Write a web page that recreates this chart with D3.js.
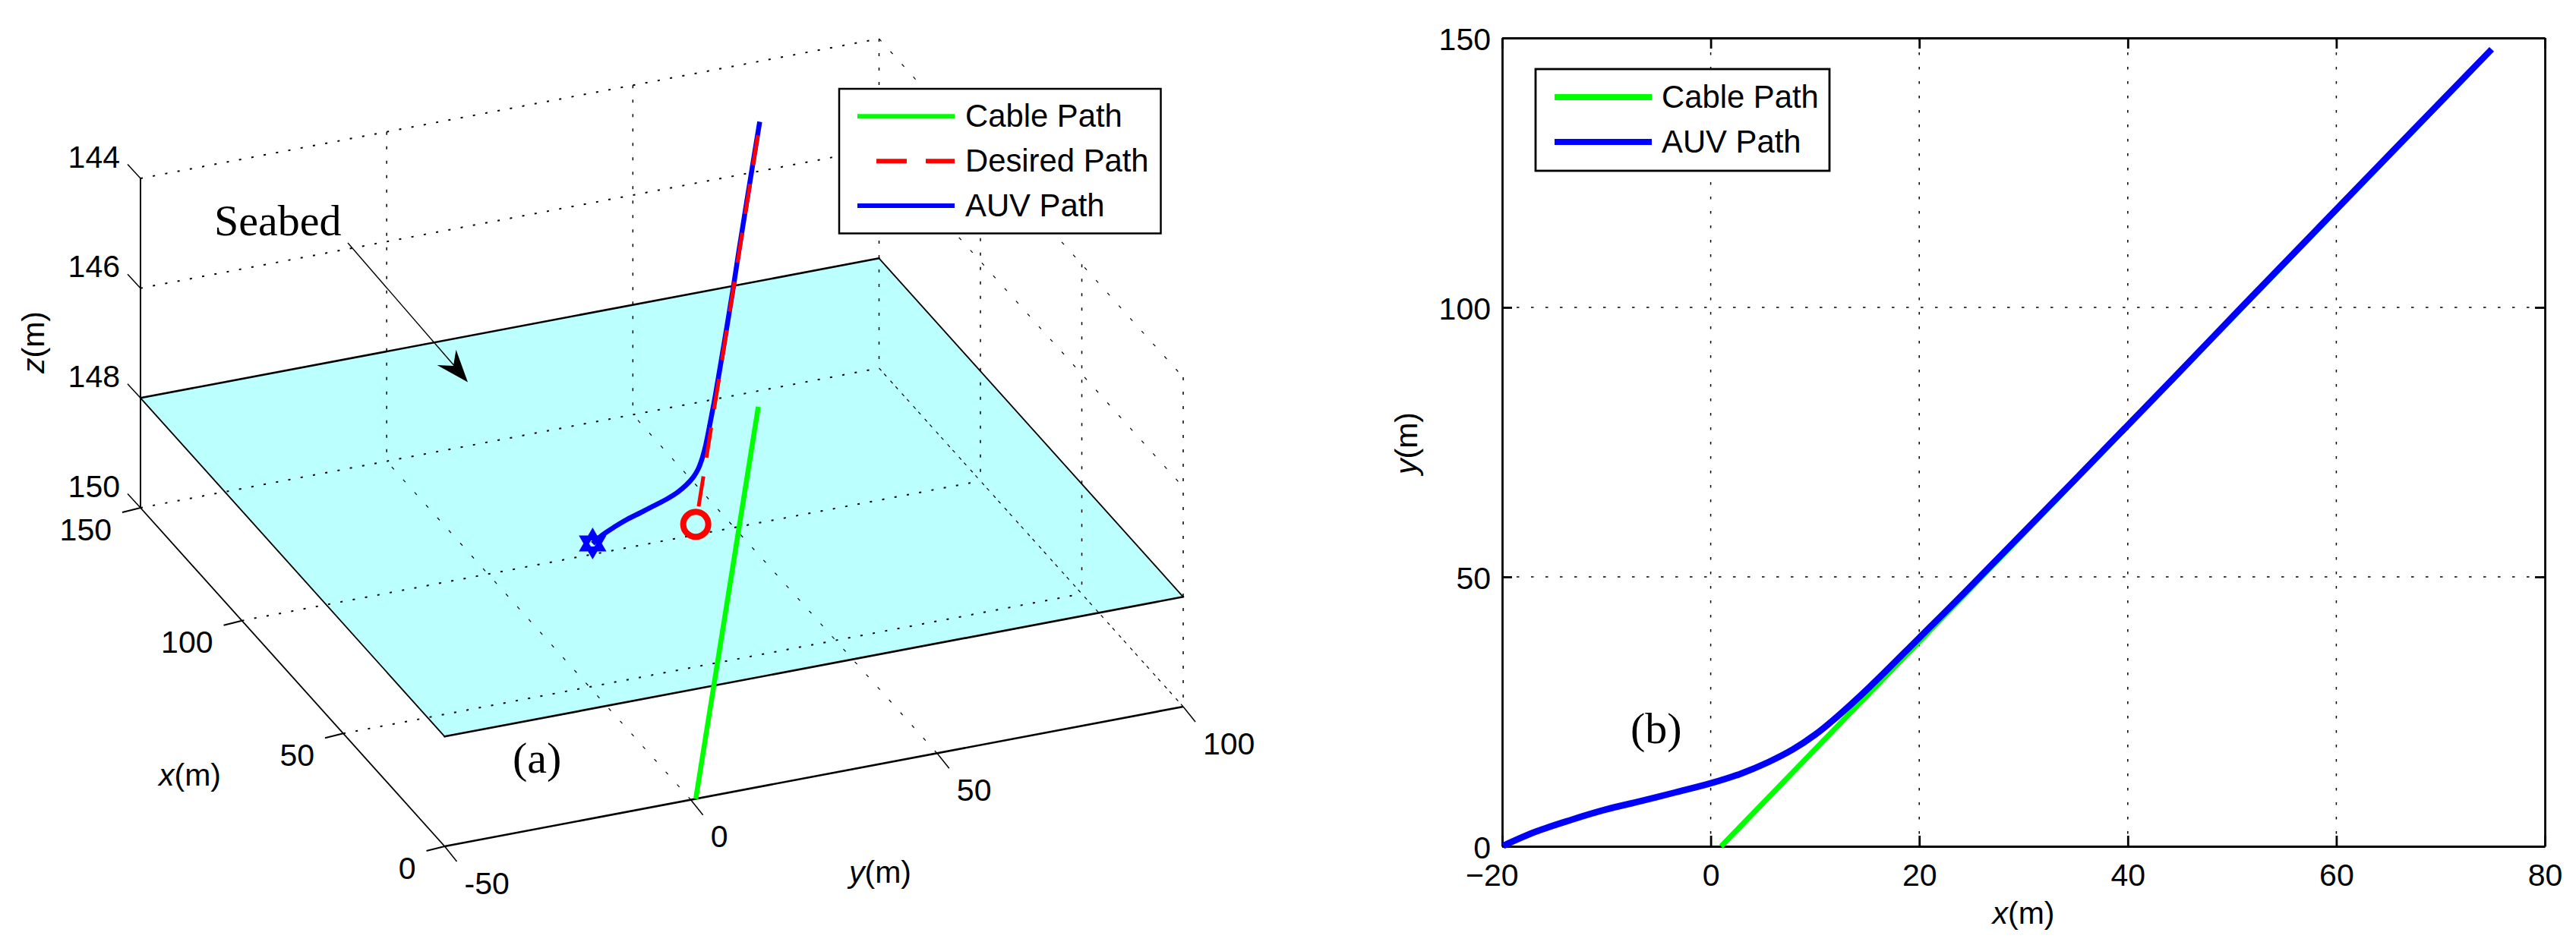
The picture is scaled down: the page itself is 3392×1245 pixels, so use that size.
<!DOCTYPE html>
<html>
<head>
<meta charset="utf-8">
<script src="https://cdn.jsdelivr.net/npm/d3@7/dist/d3.min.js"></script>
<style>
html,body{margin:0;padding:0;background:#fff;}
svg{display:block;}
text{font-family:"Liberation Sans",Arial,sans-serif;fill:#000;}
.serif{font-family:"Liberation Serif","Times New Roman",serif;}
</style>
</head>
<body>
<svg id="chart" width="3392" height="1245" viewBox="0 0 3392 1245"></svg>
<script>
// ---- Data ----
const auvAlong  = [-19.9,-16.8,-13.4,-10.1,-6.7,-3.4,0,2.9,5.5,7.9,10,11.85,15.2,19.95,24.5,44.4,50.9,59.9,74.9]; // plot (b) x, plot (a) y
const auvAcross = [0.1,2.7,4.9,6.8,8.4,10,11.7,13.5,15.6,18,20.7,23.6,29.5,38.6,47.4,86.9,100,118,147.9];        // plot (b) y, plot (a) x
const cableAlong  = [1,73];
const cableAcross = [0,144];
const desiredAlong  = [1,73];
const desiredAcross = [0,144];
const cableDepth = 150;
const pathDepth = 145;
const seabedDepth = 148;

const xTicks3D = [0,50,100,150];
const yTicks3D = [-50,0,50,100];
const zTicks3D = [144,146,148,150];
const xTicks2D = [-20,0,20,40,60,80];
const yTicks2D = [0,50,100,150];
const legendA = ["Cable Path","Desired Path","AUV Path"];
const legendB = ["Cable Path","AUV Path"];

const GREEN="#00ff00", RED="#ff0000", BLUE="#0000ff", SEA="#bbffff";
const svg = d3.select("#chart");

// ---- Plot (a): orthographic 3D projection built from linear scales ----
const xToPx = d3.scaleLinear().domain([0,150]).range([0,-400.5]);
const xToPy = d3.scaleLinear().domain([0,150]).range([0,-446]);
const yToPx = d3.scaleLinear().domain([-50,100]).range([585.5,1558]);
const yToPy = d3.scaleLinear().domain([-50,100]).range([1115,931]);
const zToPy = d3.scaleLinear().domain([150,144]).range([0,-434]);
const P = (x,y,z)=>[yToPx(y)+xToPx(x), yToPy(y)+xToPy(x)+zToPy(z)];

const a = svg.append("g");
const segment = d3.line();
const curve = d3.line().curve(d3.curveCatmullRom.alpha(0.5));
const [xMin,xMax]=d3.extent(xTicks3D), [yMin,yMax]=d3.extent(yTicks3D), [zMin,zMax]=d3.extent(zTicks3D);

// seabed
a.append("path")
 .attr("d",segment([P(xMax,yMin,seabedDepth),P(xMax,yMax,seabedDepth),P(xMin,yMax,seabedDepth),P(xMin,yMin,seabedDepth)])+"Z")
 .attr("fill",SEA).attr("stroke","none");

// grid: shallow lines, vertical lines and slanted lines carry different dash rhythms
const shallow=[], vertical=[], slanted=[];
zTicks3D.forEach(z=>{
  if(z!==seabedDepth){
    shallow.push([P(xMax,yMin,z),P(xMax,yMax,z)]);
    slanted.push([P(xMax,yMax,z),P(xMin,yMax,z)]);
  }
});
yTicks3D.filter(y=>y>yMin).forEach(y=>{
  vertical.push([P(xMax,y,zMin),P(xMax,y,zMax)]);
  slanted.push([P(xMin,y,zMax),P(xMax,y,zMax)]);
});
xTicks3D.filter(x=>x<xMax).forEach(x=>{
  vertical.push([P(x,yMax,zMin),P(x,yMax,zMax)]);
  if(x>xMin) shallow.push([P(x,yMin,zMax),P(x,yMax,zMax)]);
});
function gridGroup(lines,dash,w){
  a.append("g").selectAll("path").data(lines).join("path")
   .attr("d",d=>segment(d)).attr("fill","none").attr("stroke","#000")
   .attr("stroke-width",w).attr("stroke-dasharray",dash);
}
gridGroup(shallow,"3 13.5",2);
gridGroup(vertical,"4 15",1.5);
gridGroup(slanted,"4.5 18",1.2);

// seabed edges
const edges=[
 {p:[P(xMax,yMin,seabedDepth),P(xMax,yMax,seabedDepth)],w:2.6},
 {p:[P(xMax,yMax,seabedDepth),P(xMin,yMax,seabedDepth)],w:1.8},
 {p:[P(xMin,yMax,seabedDepth),P(xMin,yMin,seabedDepth)],w:2.6},
 {p:[P(xMin,yMin,seabedDepth),P(xMax,yMin,seabedDepth)],w:1.8}];
a.append("g").selectAll("path").data(edges).join("path")
 .attr("d",d=>segment(d.p)).attr("fill","none").attr("stroke","#000")
 .attr("stroke-width",d=>d.w).attr("stroke-linecap","round");

// axes
const axes=[
 {p:[P(xMax,yMin,zMin),P(xMax,yMin,zMax)],w:2},
 {p:[P(xMax,yMin,zMax),P(xMin,yMin,zMax)],w:1.8},
 {p:[P(xMin,yMin,zMax),P(xMin,yMax,zMax)],w:2.6}];
a.append("g").selectAll("path").data(axes).join("path")
 .attr("d",d=>segment(d.p)).attr("fill","none").attr("stroke","#000").attr("stroke-width",d=>d.w);

function tick3D(pt,dx,dy,w){
  a.append("path").attr("d",segment([pt,[pt[0]+dx,pt[1]+dy]])).attr("fill","none").attr("stroke","#000").attr("stroke-width",w);
}
zTicks3D.forEach(z=>{
  const pt=P(xMax,yMin,z); tick3D(pt,-17,-18.5,1.5);
  a.append("text").attr("x",158).attr("y",pt[1]-14.5).attr("text-anchor","end").attr("font-size",41).text(z);
});
xTicks3D.forEach(x=>{
  const pt=P(x,yMin,zMax); tick3D(pt,-24,6,2);
  a.append("text").attr("x",pt[0]-38).attr("y",pt[1]+42.5).attr("text-anchor","end").attr("font-size",41).text(x);
});
yTicks3D.forEach(y=>{
  const pt=P(xMin,y,zMax); tick3D(pt,16,20,1.5);
  a.append("text").attr("x",pt[0]+26).attr("y",pt[1]+62.5).attr("font-size",41).text(y);
});

// axis labels
function axisLabel(g,letter,x,y,rot){
  const t=g.append("text").attr("font-size",41).attr("transform",`translate(${x},${y})`+(rot?" rotate(-90)":""))
    .attr("text-anchor",rot?"middle":"start");
  t.append("tspan").attr("font-style","italic").text(letter);
  t.append("tspan").text("(m)");
  return t;
}
axisLabel(a,"z",58,451,true);
axisLabel(a,"x",209,1035,false);
axisLabel(a,"y",1118,1163,false);

// paths in plot (a)
a.append("path").attr("fill","none").attr("stroke",GREEN).attr("stroke-width",6.5)
 .attr("d",segment(cableAlong.map((y,i)=>P(cableAcross[i],y,cableDepth))));
a.append("path").attr("fill","none").attr("stroke",BLUE).attr("stroke-width",6.5)
 .attr("d",curve(auvAlong.map((y,i)=>P(auvAcross[i],y,pathDepth))));
a.append("path").attr("fill","none").attr("stroke",RED).attr("stroke-width",5)
 .attr("stroke-dasharray","40 25").attr("stroke-dashoffset",41)
 .attr("d",segment(desiredAlong.map((y,i)=>P(desiredAcross[i],y,pathDepth))));

// start markers
const startDesired=P(desiredAcross[0],desiredAlong[0],pathDepth);
a.append("circle").attr("cx",startDesired[0]).attr("cy",startDesired[1]).attr("r",16.5)
 .attr("fill","none").attr("stroke",RED).attr("stroke-width",8);
const hexagram={draw(ctx,size){
  const r=Math.sqrt(size);
  [-Math.PI/2,Math.PI/2].forEach(s=>{
    for(let k=0;k<3;k++){
      const t=s+k*2*Math.PI/3, px=r*Math.cos(t), py=r*Math.sin(t);
      if(k===0)ctx.moveTo(px,py);else ctx.lineTo(px,py);
    }
    ctx.closePath();
  });
}};
const startAuv=P(auvAcross[0],auvAlong[0],pathDepth);
a.append("path").attr("transform",`translate(${startAuv[0]},${startAuv[1]})`)
 .attr("d",d3.symbol().type(hexagram).size(210)()).attr("fill","none").attr("stroke",BLUE).attr("stroke-width",6.5);

// annotations
a.append("text").attr("class","serif").attr("x",282).attr("y",310).attr("font-size",58).text("Seabed");
a.append("text").attr("class","serif").attr("x",675).attr("y",1018).attr("font-size",58).text("(a)");
a.append("line").attr("x1",458).attr("y1",320).attr("x2",600).attr("y2",484).attr("stroke","#000").attr("stroke-width",1.4);
a.append("path").attr("d",segment([[600.5,460.7],[616,503.6],[575.5,481],[597,482]])+"Z").attr("fill","#000");

// legend helper
function legend(box,lineX,textX,rows,labels,size,boxW,lineW){
  const g=svg.append("g");
  g.append("rect").attr("x",box[0]).attr("y",box[1]).attr("width",box[2]-box[0]).attr("height",box[3]-box[1])
   .attr("fill","#fff").attr("stroke","#000").attr("stroke-width",boxW);
  labels.forEach((lab,i)=>{
    const l=g.append("line").attr("x1",lineX[0]).attr("x2",lineX[1]).attr("y1",rows[i]).attr("y2",rows[i])
      .attr("stroke",lab.startsWith("Cable")?GREEN:lab.startsWith("AUV")?BLUE:RED).attr("stroke-width",lineW);
    if(lab.startsWith("Desired")) l.attr("stroke-dasharray","40 25").attr("stroke-dashoffset",40);
    g.append("text").attr("x",textX).attr("y",rows[i]+13.5).attr("font-size",size).text(lab);
  });
}
legend([1105,117,1528.5,307.5],[1129,1257],1271,[153.3,212.3,271],legendA,41.8,2.5,6);

// ---- Plot (b) ----
const bx=d3.scaleLinear().domain([-20,80]).range([1978,3351]);
const by=d3.scaleLinear().domain([0,150]).range([1115,50]);
const b=svg.append("g");

b.append("g").selectAll("line").data(xTicks2D.filter(v=>v>-20&&v<80)).join("line")
 .attr("x1",d=>bx(d)).attr("x2",d=>bx(d)).attr("y1",by(150)).attr("y2",by(0));
b.append("g").selectAll("line").data(yTicks2D.filter(v=>v>0&&v<150)).join("line")
 .attr("y1",d=>by(d)).attr("y2",d=>by(d)).attr("x1",bx(-20)).attr("x2",bx(80));
b.selectAll("g line").attr("stroke","#000").attr("stroke-width",1.5).attr("stroke-dasharray","3.5 15.5");

function styleAxis(g){
  g.selectAll("path").attr("stroke","#000").attr("stroke-width",2.8);
  g.selectAll(".tick line").attr("stroke","#000").attr("stroke-width",2.8);
  g.selectAll("text").attr("font-size",41).attr("font-family",null);
  g.attr("font-family",null).attr("font-size",null);
}
const fmt=d=>d<0?"\u2212"+Math.abs(d):String(d);
const axB=b.append("g").attr("transform",`translate(0,${by(0)})`)
 .call(d3.axisBottom(bx).tickValues(xTicks2D).tickSize(-14).tickSizeOuter(0).tickFormat(fmt));
axB.call(styleAxis);
axB.selectAll("text").attr("y",52).attr("dy",0);
axB.selectAll(".tick").filter(d=>d<0).select("text").attr("text-anchor","end").attr("x",21);
const axT=b.append("g").attr("transform",`translate(0,${by(150)})`)
 .call(d3.axisTop(bx).tickValues(xTicks2D).tickSize(-14).tickSizeOuter(0).tickFormat(""));
axT.call(styleAxis);
const axL=b.append("g").attr("transform",`translate(${bx(-20)},0)`)
 .call(d3.axisLeft(by).tickValues(yTicks2D).tickSize(-13).tickSizeOuter(0).tickFormat(fmt));
axL.call(styleAxis);
axL.selectAll("text").attr("x",-15).attr("dy",15);
const axR=b.append("g").attr("transform",`translate(${bx(80)},0)`)
 .call(d3.axisRight(by).tickValues(yTicks2D).tickSize(-13).tickSizeOuter(0).tickFormat(""));
axR.call(styleAxis);

const line2D=d3.line().x(d=>bx(d[0])).y(d=>by(d[1]));
b.append("path").attr("fill","none").attr("stroke",GREEN).attr("stroke-width",7)
 .attr("d",line2D(cableAlong.map((v,i)=>[v,cableAcross[i]])));
b.append("path").attr("fill","none").attr("stroke",BLUE).attr("stroke-width",8.5)
 .attr("d",line2D.curve(d3.curveCatmullRom.alpha(0.5))(auvAlong.map((v,i)=>[v,auvAcross[i]])));

axisLabel(b,"x",2664.5,1217,false).attr("text-anchor","middle");
axisLabel(b,"y",1866,584,true);
b.append("text").attr("class","serif").attr("x",2147).attr("y",979).attr("font-size",58).text("(b)");

legend([2022,91,2409,225],[2047,2175],2188,[128,187],legendB,41.8,2.8,8);
</script>
</body>
</html>
